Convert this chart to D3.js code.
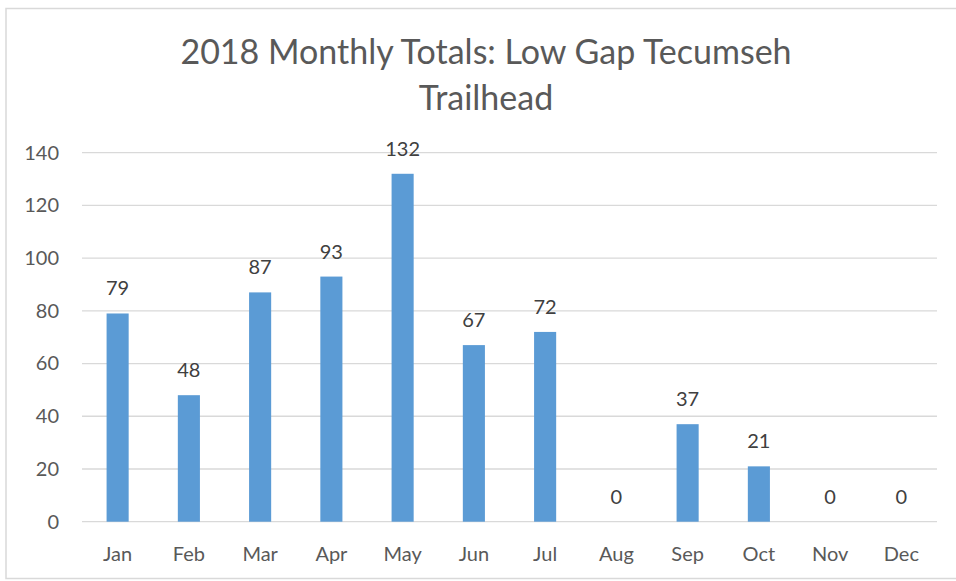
<!DOCTYPE html>
<html>
<head>
<meta charset="utf-8">
<script src="https://cdn.jsdelivr.net/npm/d3@7"></script>
<style>
  body { margin: 0; background: #fff; }
  text { font-family: Lato, "Open Sans", sans-serif; }
</style>
</head>
<body>
<svg id="chart" width="956" height="581"></svg>
<script>
const months = ["Jan", "Feb", "Mar", "Apr", "May", "Jun", "Jul", "Aug", "Sep", "Oct", "Nov", "Dec"]
const totals = [79, 48, 87, 93, 132, 67, 72, 0, 37, 21, 0, 0]
const y_ticks = [0, 20, 40, 60, 80, 100, 120, 140]
const title_lines = ["2018 Monthly Totals: Low Gap Tecumseh", "Trailhead"]

const width = 956, height = 581
const plot = {left: 82, right: 937, top: 152.7, bottom: 521.7}

const svg = d3.select("#chart")

// chart frame
svg.append("rect")
	.attr("x", 6).attr("y", 8.5)
	.attr("width", 1000).attr("height", 570)
	.attr("fill", "none")
	.attr("stroke", "#d9d9d9")
	.attr("stroke-width", 1.5)

// title
svg.append("g").classed("title", true)
	.selectAll("text").data(title_lines).enter().append("text")
	.text((d) => d)
	.attr("x", 486)
	.attr("y", (d, i) => 64 + i * 46)
	.attr("text-anchor", "middle")
	.attr("font-size", 34)
	.attr("fill", "#595959")

const x = d3.scaleBand()
	.domain(months)
	.range([plot.left, plot.right])
	.paddingInner(0.69)
	.paddingOuter(0.345)

const y = d3.scaleLinear()
	.domain([0, 140])
	.range([plot.bottom, plot.top])

// gridlines
svg.append("g").classed("grid", true)
	.selectAll("line").data(y_ticks).enter().append("line")
	.attr("x1", plot.left).attr("x2", plot.right)
	.attr("y1", (d) => y(d)).attr("y2", (d) => y(d))
	.attr("stroke", "#d9d9d9")
	.attr("stroke-width", 1.3)

// y axis labels
const y_axis = svg.append("g")
	.attr("transform", `translate(${plot.left - 23},0)`)
	.call(d3.axisLeft(y).tickValues(y_ticks).tickSize(0).tickPadding(0))
y_axis.select(".domain").remove()
y_axis.selectAll("text")
	.attr("font-size", 20)
	.attr("fill", "#595959")
	.attr("font-family", "Lato, sans-serif")

// x axis labels
const x_axis = svg.append("g")
	.attr("transform", `translate(0,${plot.bottom})`)
	.call(d3.axisBottom(x).tickSize(0).tickPadding(0))
x_axis.select(".domain").remove()
x_axis.selectAll("text")
	.attr("y", 39)
	.attr("dy", null)
	.attr("font-size", 20)
	.attr("fill", "#595959")
	.attr("font-family", "Lato, sans-serif")

// bars
svg.append("g").classed("bars", true)
	.selectAll("rect").data(totals).enter().append("rect")
	.attr("x", (d, i) => x(months[i]))
	.attr("width", x.bandwidth())
	.attr("y", (d) => y(d))
	.attr("height", (d) => y(0) - y(d))
	.attr("fill", "#5b9bd5")

// value labels
svg.append("g").classed("labels", true)
	.selectAll("text").data(totals).enter().append("text")
	.text((d) => d)
	.attr("x", (d, i) => x(months[i]) + x.bandwidth() / 2)
	.attr("y", (d) => y(d) - 18)
	.attr("text-anchor", "middle")
	.attr("font-size", 20)
	.attr("fill", "#404040")
</script>
</body>
</html>
